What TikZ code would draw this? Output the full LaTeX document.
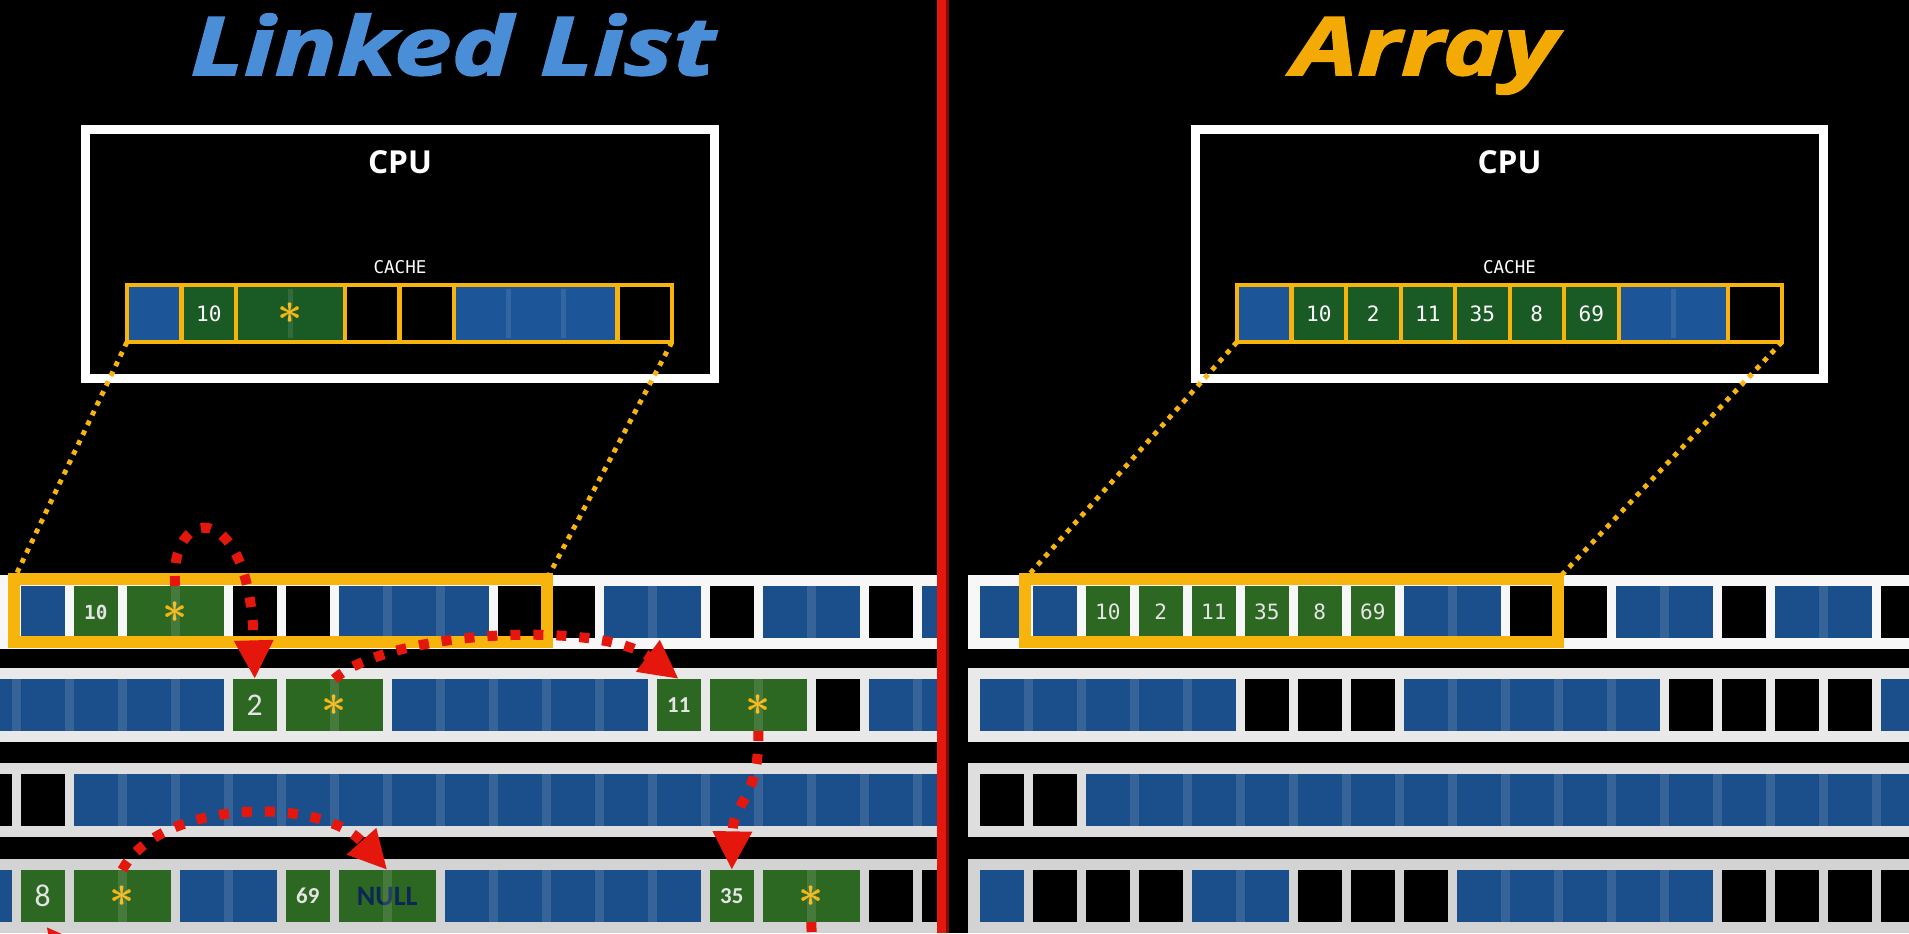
\documentclass[tikz,border=0pt]{standalone}
\usepackage{fontspec}
\setmainfont{Open Sans}
\newfontfamily\monofont{DejaVu Sans Mono}
\newfontfamily\cellfont{Carlito}
\newfontfamily\titlefont[FakeStretch=1.28,FakeBold=2]{Open Sans}
\usetikzlibrary{positioning,arrows.meta}

\definecolor{memblue}{HTML}{1B4F8C}
\definecolor{memgreen}{HTML}{2D6823}
\definecolor{cacheblue}{HTML}{1D5698}
\definecolor{cachegreen}{HTML}{1A5A25}
\definecolor{gold}{HTML}{F7B40C}
\definecolor{ptrred}{HTML}{E5170D}
\definecolor{titleblue}{HTML}{4A8ED8}
\definecolor{titlegold}{HTML}{F3AA05}
\definecolor{nullnavy}{HTML}{0D2657}
\definecolor{numgray}{HTML}{E4E4E4}

\newcommand\mono[2]{{\monofont\fontsize{#1}{#1}\selectfont #2}}
\newcommand\num[2]{{\cellfont\fontsize{#1}{#1}\selectfont #2}}
\newcommand\ptrmark{{\color{gold}\fontsize{33}{33}\selectfont\boldmath$\ast$}}

% memory cell: side, row, top, x0 (from \ki \ns \ty \tx)
\newcommand\memcell[4]{%
  \pgfmathsetmacro\cx{#4+\ki*53+(\ns*53-9.5)/2}
  \node[\ty cell, minimum width={(\ns*53-9.5)*0.02cm}] (#1-#2-\ki) at (\cx,#3+26) {\tx};
  \ifnum\ns>1 \foreach \j in {2,...,\ns}
      \fill[white,opacity=.12] (#4+\ki*53+\j*53-62.5,#3) rectangle ++(9.5,52);
  \fi}
% cache cell: side, x0, unit
\newcommand\cachecell[3]{%
  \pgfmathsetmacro\cx{#2+\ki*#3+\ns*#3/2}
  \node[\ty cache, minimum width={\ns*#3*0.02cm}] (#1C-\ki) at (\cx,313.5) {\tx};
  \ifnum\ns>1 \foreach \j in {2,...,\ns}
      \fill[white,opacity=.1] (#2+\ki*#3+\j*#3-#3-2.5,289) rectangle ++(5,49);
  \fi}

\begin{document}
\begin{tikzpicture}[x=0.02cm,y=-0.02cm,
  cell/.style={minimum height=1.04cm,inner sep=0pt,outer sep=0pt,text=numgray},
  bcell/.style={cell,fill=memblue},
  gcell/.style={cell,fill=memgreen},
  kcell/.style={cell,fill=black},
  cache/.style={draw=gold,line width=2.3pt,minimum height=1.14cm,inner sep=0pt,outer sep=0pt,text=white},
  bcache/.style={cache,fill=cacheblue},
  gcache/.style={cache,fill=cachegreen},
  kcache/.style={cache,fill=black},
  cpu/.style={draw=white,line width=5.1pt,minimum width=12.58cm,minimum height=4.98cm,inner sep=0pt},
  sel/.style={draw=gold,line width=6.8pt,minimum width=10.66cm,minimum height=1.26cm,inner sep=0pt,outer sep=0pt},
  link/.style={gold,line width=2.8pt,dash pattern=on 2.8pt off 3.4pt},
  ptr/.style={ptrred,line width=5.7pt,dash pattern=on 5.7pt off 7.4pt,-{Triangle[length=22pt,width=21pt]}},
  title/.style={anchor=base,font=\titlefont\bfseries\itshape\fontsize{46}{46}\selectfont}]
\fill[black] (0,0) rectangle (1909,933);
\useasboundingbox (0,0) rectangle (1909,933);
\clip (0,0) rectangle (1909,933);

% titles
\node[title,text=titleblue] (lltitle) at (453,75) {Linked List};
\node[title,text=titlegold] (artitle) at (1425,75) {Array};

% cpu boxes
\node[cpu] (lcpu) at (400,254) {};
\node[cpu] (rcpu) at (1509.5,254) {};
\node[text=white,font=\bfseries\fontsize{18}{18}\selectfont] at (400,162) {CPU};
\node[text=white,font=\bfseries\fontsize{18}{18}\selectfont] at (1509.5,162) {CPU};
\node[text=white] at (400,267) {\mono{10}{CACHE}};
\node[text=white] at (1509.5,267) {\mono{10}{CACHE}};

% caches
\foreach \ki/\ns/\ty/\tx in {0/1/b/{},1/1/g/{\mono{12}{10}},2/2/g/{\ptrmark},4/1/k/{},5/1/k/{},6/3/b/{},9/1/k/{}}
  {\cachecell{L}{127}{54.5}}
\foreach \ki/\ns/\ty/\tx in {0/1/b/{},1/1/g/{\mono{12}{10}},2/1/g/{\mono{12}{2}},3/1/g/{\mono{12}{11}},4/1/g/{\mono{12}{35}},5/1/g/{\mono{12}{8}},6/1/g/{\mono{12}{69}},7/2/b/{},9/1/k/{}}
  {\cachecell{R}{1237}{54.5}}

% memory, linked list side
\begin{scope}
\clip (0,0) rectangle (937,933);
\foreach \yt/\bc in {586/F7F7F7,679/E9E9E9,774/DEDEDE,870/D3D3D3}
  {\definecolor{band}{HTML}{\bc}\fill[band] (0,\yt-11) rectangle (937,\yt+63);}
\foreach \ki/\ns/\ty/\tx in {0/1/b/{},1/1/g/{\mono{11}{\bfseries 10}},2/2/g/{\ptrmark},4/1/k/{},5/1/k/{},6/3/b/{},9/1/k/{},10/1/k/{},11/2/b/{},13/1/k/{},14/2/b/{},16/1/k/{},17/2/b/{}}
  {\memcell{L}{1}{586}{21}}
\foreach \ki/\ns/\ty/\tx in {-1/5/b/{},4/1/g/{\num{18}{2}},5/2/g/{\ptrmark},7/5/b/{},12/1/g/{\num{13}{\bfseries 11}},13/2/g/{\ptrmark},15/1/k/{},16/2/b/{}}
  {\memcell{L}{2}{679}{21}}
\foreach \ki/\ns/\ty/\tx in {-1/1/k/{},0/1/k/{},1/17/b/{}}
  {\memcell{L}{3}{774}{21}}
\foreach \ki/\ns/\ty/\tx in {-1/1/b/{},0/1/g/{\num{18}{8}},1/2/g/{\ptrmark},3/2/b/{},5/1/g/{\num{13}{\bfseries 69}},6/2/g/{\color{nullnavy}\num{16}{\bfseries NULL}},8/5/b/{},13/1/g/{\num{13}{\bfseries 35}},14/2/g/{\ptrmark},16/1/k/{},17/1/k/{}}
  {\memcell{L}{4}{870}{21}}
\node[sel] (LM) at (280.5,610.5) {};
\end{scope}

% memory, array side
\begin{scope}
\clip (968,0) rectangle (1909,933);
\foreach \yt/\bc in {586/F7F7F7,679/E9E9E9,774/DEDEDE,870/D3D3D3}
  {\definecolor{band}{HTML}{\bc}\fill[band] (968,\yt-11) rectangle (1909,\yt+63);}
\foreach \ki/\ns/\ty/\tx in {0/1/b/{},1/1/b/{},2/1/g/{\mono{12}{10}},3/1/g/{\mono{12}{2}},4/1/g/{\mono{12}{11}},5/1/g/{\mono{12}{35}},6/1/g/{\mono{12}{8}},7/1/g/{\mono{12}{69}},8/2/b/{},10/1/k/{},11/1/k/{},12/2/b/{},14/1/k/{},15/2/b/{},17/1/k/{}}
  {\memcell{R}{1}{586}{980}}
\foreach \ki/\ns/\ty/\tx in {0/5/b/{},5/1/k/{},6/1/k/{},7/1/k/{},8/5/b/{},13/1/k/{},14/1/k/{},15/1/k/{},16/1/k/{},17/1/b/{}}
  {\memcell{R}{2}{679}{980}}
\foreach \ki/\ns/\ty/\tx in {0/1/k/{},1/1/k/{},2/16/b/{}}
  {\memcell{R}{3}{774}{980}}
\foreach \ki/\ns/\ty/\tx in {0/1/b/{},1/1/k/{},2/1/k/{},3/1/k/{},4/2/b/{},6/1/k/{},7/1/k/{},8/1/k/{},9/5/b/{},14/1/k/{},15/1/k/{},16/1/k/{},17/1/k/{}}
  {\memcell{R}{4}{870}{980}}
\node[sel] (RM) at (1291.5,610.5) {};
\end{scope}

% cache lines
\draw[link] (LC-0.south west) -- (LM.north west);
\draw[link] (LC-9.south east) -- (LM.north east);
\draw[link] (RC-0.south west) -- (RM.north west);
\draw[link] (RC-9.south east) -- (RM.north east);

% pointers
\coordinate (gone) at (814,995);
\coordinate (back) at (100,995);
\draw[ptr] (L-1-2.north) .. controls (168,505) and (250,495) .. (L-2-4.north);
\draw[ptr] (L-2-5.north) .. controls (390,630) and (600,620) .. (L-2-12.north);
\draw[ptr] (L-2-13.south) .. controls (760,800) and (733,800) .. (L-4-13.north);
\draw[ptr] (L-4-1.north) .. controls (160,800) and (320,795) .. (L-4-6.north);
\draw[ptr,-] (L-4-14.south) -- (gone);
\draw[ptr,shorten >=3.4pt] (back) -- (L-4-0.south);

% divider
\fill[ptrred] (937,0) rectangle (946,933);
\fill[ptrred!55!black] (946,0) rectangle (949,933);
\end{tikzpicture}
\end{document}
